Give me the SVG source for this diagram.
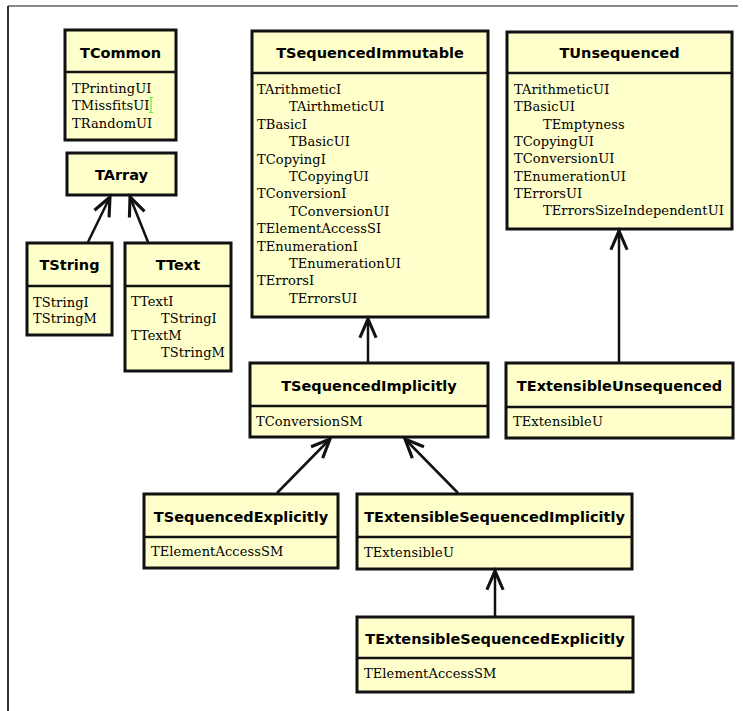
<svg xmlns="http://www.w3.org/2000/svg" width="743" height="711" viewBox="0 0 743 711">
  <style>
    .box { fill: #ffffcc; stroke: #111; stroke-width: 3; }
    .div { stroke: #111; stroke-width: 2.5; }
    .title { font-family: "DejaVu Sans", "Liberation Sans", sans-serif; font-weight: bold; font-size: 14.5px; fill: #000; text-anchor: middle; }
    .item { font-family: "DejaVu Serif", "Liberation Serif", serif; font-size: 13px; letter-spacing: 0.1px; fill: #000; }
    .edge { stroke: #111; stroke-width: 2.5; fill: none; marker-end: url(#open); }
  </style>
  <defs>
    <marker id="open" markerUnits="userSpaceOnUse" markerWidth="30" markerHeight="30" viewBox="-20 -10 24 20" refX="0" refY="0" orient="auto">
      <path d="M-15,-6.5 L0,0 L-15,6.5" fill="none" stroke="#111" stroke-width="2.5" stroke-linejoin="miter"/>
    </marker>
  </defs>
  <rect width="743" height="711" fill="#fff"/>
  <!-- frame -->
  <line x1="8" y1="6" x2="738" y2="6" stroke="#888" stroke-width="2"/>
  <line x1="8" y1="6" x2="8" y2="711" stroke="#333" stroke-width="2"/>

  <g id="TCommon">
    <rect class="box" x="65" y="30" width="111" height="110"/>
    <line class="div" x1="65" y1="72" x2="176" y2="72"/>
    <text class="title" x="120.5" y="58">TCommon</text>
    <text class="item" x="72" y="93">TPrintingUI</text>
    <text class="item" x="72" y="110">TMissfitsUI</text>
    <text class="item" x="72" y="128">TRandomUI</text>
    <!-- text caret -->
    <path d="M149,97.5 h4 M151,97.5 v15 M149,112.5 h4" stroke="#66ee22" stroke-width="1.2" fill="none"/>
  </g>

  <g id="TArray">
    <rect class="box" x="67" y="153" width="109" height="42"/>
    <text class="title" x="121.5" y="180">TArray</text>
  </g>

  <g id="TString">
    <rect class="box" x="27" y="243" width="85" height="92"/>
    <line class="div" x1="27" y1="286" x2="112" y2="286"/>
    <text class="title" x="69.5" y="270">TString</text>
    <text class="item" x="33" y="307">TStringI</text>
    <text class="item" x="33" y="323">TStringM</text>
  </g>

  <g id="TText">
    <rect class="box" x="125" y="243" width="106" height="128"/>
    <line class="div" x1="125" y1="286" x2="231" y2="286"/>
    <text class="title" x="178" y="270">TText</text>
    <text class="item" x="131" y="306">TTextI</text>
    <text class="item" x="161" y="323">TStringI</text>
    <text class="item" x="131" y="340">TTextM</text>
    <text class="item" x="161" y="357">TStringM</text>
  </g>

  <g id="TSequencedImmutable">
    <rect class="box" x="252" y="31" width="236" height="286"/>
    <line class="div" x1="252" y1="73" x2="488" y2="73"/>
    <text class="title" x="370" y="58">TSequencedImmutable</text>
    <text class="item" x="257" y="94">TArithmeticI</text>
    <text class="item" x="289" y="111.4">TAirthmeticUI</text>
    <text class="item" x="257" y="128.8">TBasicI</text>
    <text class="item" x="289" y="146.2">TBasicUI</text>
    <text class="item" x="257" y="163.6">TCopyingI</text>
    <text class="item" x="289" y="181">TCopyingUI</text>
    <text class="item" x="257" y="198.4">TConversionI</text>
    <text class="item" x="289" y="215.8">TConversionUI</text>
    <text class="item" x="257" y="233.2">TElementAccessSI</text>
    <text class="item" x="257" y="250.6">TEnumerationI</text>
    <text class="item" x="289" y="268">TEnumerationUI</text>
    <text class="item" x="257" y="285.4">TErrorsI</text>
    <text class="item" x="289" y="302.8">TErrorsUI</text>
  </g>

  <g id="TUnsequenced">
    <rect class="box" x="507" y="32" width="225" height="197"/>
    <line class="div" x1="507" y1="73" x2="732" y2="73"/>
    <text class="title" x="619.5" y="58">TUnsequenced</text>
    <text class="item" x="514" y="94">TArithmeticUI</text>
    <text class="item" x="514" y="111.3">TBasicUI</text>
    <text class="item" x="543" y="128.6">TEmptyness</text>
    <text class="item" x="514" y="145.9">TCopyingUI</text>
    <text class="item" x="514" y="163.2">TConversionUI</text>
    <text class="item" x="514" y="180.5">TEnumerationUI</text>
    <text class="item" x="514" y="197.8">TErrorsUI</text>
    <text class="item" x="543" y="215.1">TErrorsSizeIndependentUI</text>
  </g>

  <g id="TSequencedImplicitly">
    <rect class="box" x="250" y="363" width="238" height="74"/>
    <line class="div" x1="250" y1="406" x2="488" y2="406"/>
    <text class="title" x="369" y="391">TSequencedImplicitly</text>
    <text class="item" x="256" y="426">TConversionSM</text>
  </g>

  <g id="TExtensibleUnsequenced">
    <rect class="box" x="506" y="363" width="227" height="75"/>
    <line class="div" x1="506" y1="407" x2="733" y2="407"/>
    <text class="title" x="619.5" y="391">TExtensibleUnsequenced</text>
    <text class="item" x="513" y="426">TExtensibleU</text>
  </g>

  <g id="TSequencedExplicitly">
    <rect class="box" x="144" y="494" width="194" height="74"/>
    <line class="div" x1="144" y1="537" x2="338" y2="537"/>
    <text class="title" x="241" y="522">TSequencedExplicitly</text>
    <text class="item" x="151" y="556">TElementAccessSM</text>
  </g>

  <g id="TExtensibleSequencedImplicitly">
    <rect class="box" x="357" y="494" width="275" height="75"/>
    <line class="div" x1="357" y1="537" x2="632" y2="537"/>
    <text class="title" x="494.5" y="522">TExtensibleSequencedImplicitly</text>
    <text class="item" x="364" y="557">TExtensibleU</text>
  </g>

  <g id="TExtensibleSequencedExplicitly">
    <rect class="box" x="357" y="617" width="276" height="75"/>
    <line class="div" x1="357" y1="658" x2="633" y2="658"/>
    <text class="title" x="495" y="644">TExtensibleSequencedExplicitly</text>
    <text class="item" x="364" y="678">TElementAccessSM</text>
  </g>

  <g id="connectors">
    <line class="edge" x1="88" y1="242" x2="110" y2="197"/>
    <line class="edge" x1="148" y1="242" x2="130" y2="197"/>
    <line class="edge" x1="368" y1="362" x2="368" y2="319"/>
    <line class="edge" x1="619" y1="362" x2="619" y2="231"/>
    <line class="edge" x1="277" y1="493" x2="330" y2="439"/>
    <line class="edge" x1="458" y1="493" x2="405" y2="439"/>
    <line class="edge" x1="495" y1="616" x2="495" y2="571"/>
  </g>
</svg>
